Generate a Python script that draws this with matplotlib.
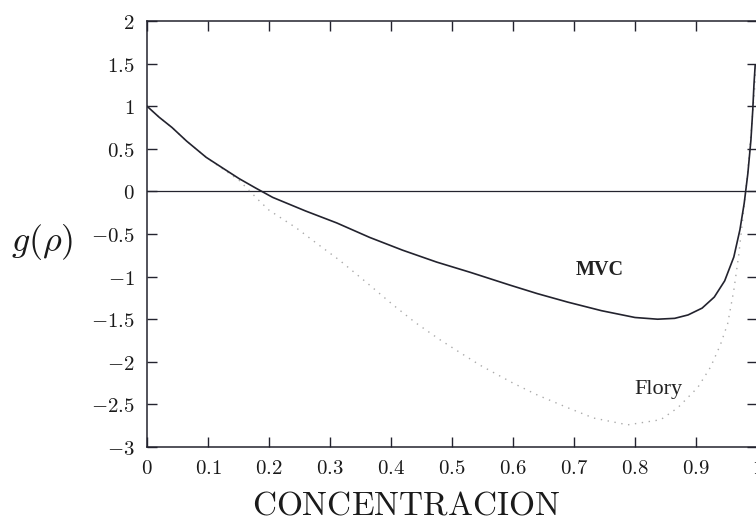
import matplotlib
matplotlib.use("Agg")
import matplotlib.pyplot as plt

plt.rcParams['mathtext.fontset'] = 'cm'

# MVC curve (solid)
mvc_x = [0.0, 0.02, 0.041, 0.065, 0.097, 0.125, 0.151, 0.178, 0.206, 0.26, 0.311, 0.365,
         0.419, 0.475, 0.53, 0.595, 0.64, 0.69, 0.745, 0.80, 0.837, 0.865, 0.887, 0.91,
         0.93, 0.947, 0.962, 0.972, 0.979, 0.985, 0.99, 0.993, 0.995, 0.997]
mvc_y = [1.0, 0.87, 0.75, 0.59, 0.40, 0.27, 0.15, 0.04, -0.07, -0.23, -0.37, -0.54,
         -0.69, -0.83, -0.95, -1.10, -1.20, -1.30, -1.40, -1.48, -1.50, -1.49, -1.45, -1.37,
         -1.24, -1.05, -0.77, -0.45, -0.14, 0.21, 0.60, 0.95, 1.25, 1.48]

# Flory curve (dotted)
flory_x = [0.0, 0.02, 0.041, 0.065, 0.097, 0.125, 0.151, 0.184, 0.2, 0.245, 0.28, 0.316,
           0.36, 0.403, 0.44, 0.48, 0.515, 0.546, 0.60, 0.64, 0.69, 0.732, 0.788, 0.842,
           0.87, 0.903, 0.924, 0.94, 0.952, 0.962, 0.97, 0.977, 0.985, 0.991, 0.996, 0.999]
flory_y = [1.0, 0.87, 0.75, 0.59, 0.40, 0.26, 0.13, -0.11, -0.22, -0.43, -0.62, -0.81,
           -1.07, -1.33, -1.54, -1.74, -1.90, -2.04, -2.25, -2.39, -2.54, -2.66, -2.74, -2.68,
           -2.54, -2.30, -2.06, -1.80, -1.55, -1.16, -0.75, -0.30, 0.25, 0.75, 1.20, 1.50]

x_ticks = [0, 0.1, 0.2, 0.3, 0.4, 0.5, 0.6, 0.7, 0.8, 0.9, 1]
x_labels = ['0', '0.1', '0.2', '0.3', '0.4', '0.5', '0.6', '0.7', '0.8', '0.9', '1']
y_ticks = [2, 1.5, 1, 0.5, 0, -0.5, -1, -1.5, -2, -2.5, -3]
y_labels = ['2', '1.5', '1', '0.5', '0', '-0.5', '-1', '-1.5', '-2', '-2.5', '-3']

ink = '#23232e'

fig = plt.figure(figsize=(7.56, 5.29), dpi=100)
ax = fig.add_axes([147/756, (529-447)/529, (757-147)/756, (447-21)/529])

ax.axhline(0, color=ink, lw=0.9)
ax.plot(flory_x, flory_y, color='#aaaaaa', lw=1.0, linestyle=(0, (1, 4)))
ax.plot(mvc_x, mvc_y, color=ink, lw=1.2)

ax.set_xlim(0, 1)
ax.set_ylim(-3, 2)
ax.set_xticks(x_ticks)
ax.set_xticklabels(['$' + s + '$' for s in x_labels])
ax.set_yticks(y_ticks)
ax.set_yticklabels(['$' + s + '$' for s in y_labels])
ax.tick_params(direction='in', length=7, width=1.0, color=ink, labelsize=15,
               top=True, right=True, labelcolor='#1a1a1a')
ax.tick_params(axis='y', pad=9)
ax.tick_params(axis='x', pad=8)
for sp in ax.spines.values():
    sp.set_color(ink)
    sp.set_linewidth(1.1)

ax.text(0.743, -0.925, 'MVC', fontsize=14.5, fontweight='bold', family='Liberation Serif',
        ha='center', va='center', color='#222222')
ax.text(0.839, -2.32, 'Flory', fontsize=16, family='Liberation Serif',
        ha='center', va='center', color='#222222')

fig.text(406/756, 1 - 505/529, r'$\mathrm{CONCENTRACION}$', fontsize=24,
         ha='center', va='center', color='#1a1a1a')
fig.text(42/756, 1 - 242/529, r'$g(\rho)$', fontsize=26,
         ha='center', va='center', color='#1a1a1a')

fig.savefig('out.png', dpi=100)
